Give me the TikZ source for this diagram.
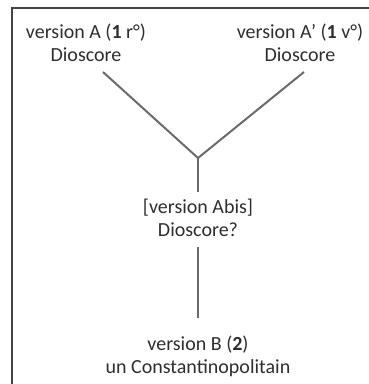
\documentclass[tikz,border=0pt]{standalone}
\usepackage{fontspec}
\setmainfont{Carlito}
\usepackage{tikz}
\usetikzlibrary{calc}

\definecolor{txtgray}{HTML}{2E2E2E}
\definecolor{linegray}{HTML}{6A6A6A}

\begin{document}
\begin{tikzpicture}[x=1pt,y=-1pt,
    vtext/.style={align=center,text=txtgray,font=\fontsize{20}{23}\selectfont,inner sep=0pt},
    stem/.style={line width=2pt,linegray}]
    \useasboundingbox (0,0) rectangle (369,384);
    \coordinate (topA) at (103,72);
    \coordinate (topAp) at (304,72);
    \coordinate (junction) at (198,158);
    \coordinate (abisTop) at (198,192);
    \coordinate (abisBot) at (198,247);
    \coordinate (bTop) at (198,318);

    % frame, only top and left edges in view
    \draw[line width=1.5pt,txtgray!90] (369,8) -- (12,8) -- (12,384);

    \node[vtext] (verA) at (86,43) {version A (\textbf{1} r°)\\Dioscore};
    \node[vtext] (verAp) at (300,43) {version A’ (\textbf{1} v°)\\Dioscore};
    \node[vtext] (verAbis) at (198,218) {[version Abis]\\Dioscore?};
    \node[vtext] (verB) at (198,356) {version B (\textbf{2})\\un Constantinopolitain};

    \draw[stem] (topA) -- (junction) -- (topAp);
    \draw[stem] (junction) -- (abisTop);
    \draw[stem] (abisBot) -- (bTop);
\end{tikzpicture}
\end{document}
